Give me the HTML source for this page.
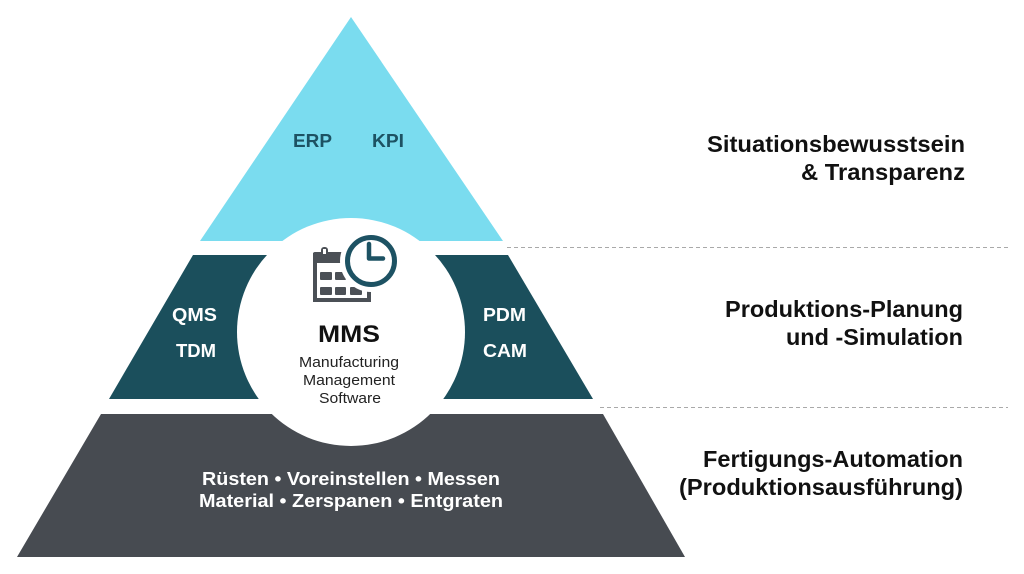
<!DOCTYPE html>
<html>
<head>
<meta charset="utf-8">
<style>
  html, body { margin: 0; padding: 0; background: #ffffff; }
  body { width: 1024px; height: 574px; overflow: hidden; }
  svg { display: block; }
  text { font-family: "Liberation Sans", Arial, sans-serif; }
</style>
</head>
<body>
<svg width="1024" height="574" viewBox="0 0 1024 574" xmlns="http://www.w3.org/2000/svg">
  <rect x="0" y="0" width="1024" height="574" fill="#ffffff"/>

  <!-- Top triangle -->
  <polygon points="351,17 200,241 503,241" fill="#7ADCEF"/>
  <!-- Middle band -->
  <polygon points="193,255 508,255 593,399 109,399" fill="#1B4F5C"/>
  <!-- Bottom band -->
  <polygon points="101,414 603,414 685,557 17,557" fill="#474B51"/>

  <!-- White center circle -->
  <circle cx="351" cy="332" r="114" fill="#ffffff"/>

  <!-- Dashed separators -->
  <line x1="507" y1="247.5" x2="1008" y2="247.5" stroke="#a9a9a9" stroke-width="1" stroke-dasharray="4,3"/>
  <line x1="600" y1="407.5" x2="1008" y2="407.5" stroke="#a9a9a9" stroke-width="1" stroke-dasharray="4,3"/>

  <!-- Icon: calendar -->
  <g fill="#4B5056">
    <!-- outline -->
    <path d="M313,253 h58 v49 h-58 z M317,263 v35 h50 v-35 z" fill-rule="evenodd"/>
    <!-- header -->
    <rect x="313" y="252" width="58" height="11" rx="2"/>
    <!-- ring -->
    <rect x="321" y="247" width="7" height="11" rx="3" fill="#4B5056"/>
    <rect x="323" y="249" width="3" height="5" fill="#ffffff"/>
    <!-- grid -->
    <rect x="320" y="272" width="12" height="8" rx="1"/>
    <rect x="335" y="272" width="11" height="8" rx="1"/>
    <rect x="320" y="287" width="12" height="8" rx="1"/>
    <rect x="335" y="287" width="11" height="8" rx="1"/>
    <rect x="350" y="287" width="12" height="8" rx="1"/>
  </g>
  <!-- white halo around clock -->
  <circle cx="371" cy="261" r="31" fill="#ffffff"/>
  <!-- Clock -->
  <circle cx="371" cy="261" r="23.5" fill="#ffffff" stroke="#1D5263" stroke-width="5"/>
  <path d="M369,244 V258.5 H383" fill="none" stroke="#1D5263" stroke-width="4.5" stroke-linecap="round" stroke-linejoin="round"/>

  <!-- MMS text -->
  <text x="349" y="342" text-anchor="middle" font-size="24" font-weight="bold" fill="#111111" textLength="62" lengthAdjust="spacingAndGlyphs">MMS</text>
  <text x="349" y="367" text-anchor="middle" font-size="15" fill="#222222" textLength="100" lengthAdjust="spacingAndGlyphs">Manufacturing</text>
  <text x="349" y="385" text-anchor="middle" font-size="15" fill="#222222" textLength="92" lengthAdjust="spacingAndGlyphs">Management</text>
  <text x="350" y="403" text-anchor="middle" font-size="15" fill="#222222" textLength="62" lengthAdjust="spacingAndGlyphs">Software</text>

  <!-- Top labels -->
  <text x="293" y="147" font-size="18" font-weight="bold" fill="#1D5263" textLength="39" lengthAdjust="spacingAndGlyphs">ERP</text>
  <text x="372" y="147" font-size="18" font-weight="bold" fill="#1D5263" textLength="32" lengthAdjust="spacingAndGlyphs">KPI</text>

  <!-- Middle labels -->
  <text x="172" y="321" font-size="18" font-weight="bold" fill="#ffffff" textLength="45" lengthAdjust="spacingAndGlyphs">QMS</text>
  <text x="176" y="357" font-size="18" font-weight="bold" fill="#ffffff" textLength="40" lengthAdjust="spacingAndGlyphs">TDM</text>
  <text x="483" y="321" font-size="18" font-weight="bold" fill="#ffffff" textLength="43" lengthAdjust="spacingAndGlyphs">PDM</text>
  <text x="483" y="357" font-size="18" font-weight="bold" fill="#ffffff" textLength="44" lengthAdjust="spacingAndGlyphs">CAM</text>

  <!-- Bottom labels -->
  <text x="202" y="485" font-size="18" font-weight="bold" fill="#ffffff" textLength="298" lengthAdjust="spacingAndGlyphs">Rüsten • Voreinstellen • Messen</text>
  <text x="199" y="507" font-size="18" font-weight="bold" fill="#ffffff" textLength="304" lengthAdjust="spacingAndGlyphs">Material • Zerspanen • Entgraten</text>

  <!-- Right labels -->
  <text x="707" y="152" font-size="23" font-weight="bold" fill="#111111" textLength="258" lengthAdjust="spacingAndGlyphs">Situationsbewusstsein</text>
  <text x="801" y="180" font-size="23" font-weight="bold" fill="#111111" textLength="164" lengthAdjust="spacingAndGlyphs">&amp; Transparenz</text>

  <text x="725" y="317" font-size="23" font-weight="bold" fill="#111111" textLength="238" lengthAdjust="spacingAndGlyphs">Produktions-Planung</text>
  <text x="786" y="345" font-size="23" font-weight="bold" fill="#111111" textLength="177" lengthAdjust="spacingAndGlyphs">und -Simulation</text>

  <text x="703" y="467" font-size="23" font-weight="bold" fill="#111111" textLength="260" lengthAdjust="spacingAndGlyphs">Fertigungs-Automation</text>
  <text x="679" y="495" font-size="23" font-weight="bold" fill="#111111" textLength="284" lengthAdjust="spacingAndGlyphs">(Produktionsausführung)</text>
</svg>
</body>
</html>
